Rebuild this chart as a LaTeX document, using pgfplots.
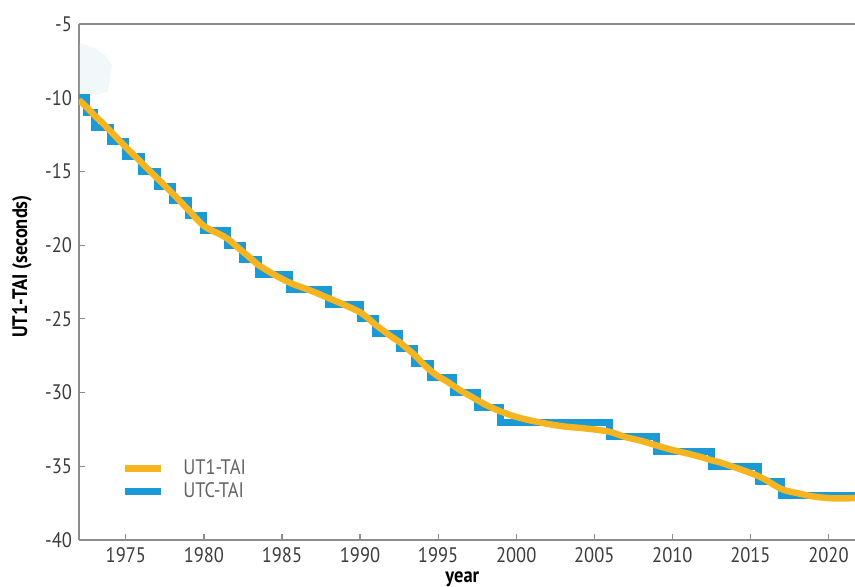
\documentclass[border=0pt]{standalone}
\usepackage{fontspec}
\setmainfont{PT Sans}[FakeStretch=0.88]
\usepackage{pgfplots}
\pgfplotsset{compat=1.18}
\definecolor{ut1}{HTML}{F6B420}
\definecolor{utc}{HTML}{1A9AD6}
\definecolor{axgray}{HTML}{8C8C8C}
\definecolor{txtgray}{HTML}{3C3C3C}
\definecolor{blob}{HTML}{F1F8FA}

\pgfplotstableread{
year val
1972.0 -10
1972.5 -11
1973.0 -12
1974.0 -13
1975.0 -14
1976.0 -15
1977.0 -16
1978.0 -17
1979.0 -18
1980.0 -19
1981.5 -20
1982.5 -21
1983.5 -22
1985.5 -23
1988.0 -24
1990.0 -25
1991.0 -26
1992.5 -27
1993.5 -28
1994.5 -29
1996.0 -30
1997.5 -31
1999.0 -32
2006.0 -33
2009.0 -34
2012.5 -35
2015.5 -36
2017.0 -37
2022.5 -37
}\utctai

\pgfplotstableread{
year val
1972.0 -10.15
1972.5 -10.65
1973.0 -11.2
1973.5 -11.7
1974.0 -12.25
1975.0 -13.35
1976.0 -14.4
1977.0 -15.45
1978.0 -16.5
1979.0 -17.6
1980.0 -18.7
1981.0 -19.25
1981.5 -19.55
1982.0 -20.0
1982.5 -20.45
1983.0 -20.9
1983.5 -21.35
1984.5 -22.0
1985.5 -22.55
1986.5 -22.95
1987.0 -23.15
1988.0 -23.6
1989.0 -24.05
1990.0 -24.55
1990.5 -24.95
1991.0 -25.4
1991.5 -25.8
1992.0 -26.2
1992.5 -26.55
1993.0 -27.0
1993.5 -27.45
1994.0 -28.0
1994.5 -28.5
1995.0 -28.9
1995.5 -29.2
1996.0 -29.55
1996.5 -29.9
1997.0 -30.2
1997.5 -30.5
1998.0 -30.8
1998.5 -31.05
1999.0 -31.28
2000.0 -31.65
2001.0 -31.91
2002.0 -32.12
2003.0 -32.29
2004.0 -32.39
2005.0 -32.5
2006.0 -32.66
2007.0 -33.02
2008.0 -33.27
2009.0 -33.59
2010.0 -33.89
2011.0 -34.14
2012.0 -34.42
2012.5 -34.59
2013.0 -34.72
2014.0 -35.07
2015.0 -35.45
2015.5 -35.66
2016.0 -35.93
2017.0 -36.55
2018.0 -36.82
2019.0 -37.04
2020.0 -37.16
2021.0 -37.18
2022.0 -37.15
}\utitai

\begin{document}
\begin{tikzpicture}
\begin{axis}[
  name=ax,
  at={(0,0)}, anchor=south west,
  scale only axis, width=388pt, height=258pt,
  xmin=1972, xmax=2021.7, ymin=-40, ymax=-5,
  axis lines*=left,
  xtick={1975,1980,...,2020}, ytick={-40,-35,...,-5},
  tick align=inside, major tick length=3pt,
  tick style={axgray, line width=0.6pt},
  axis line style={axgray, line width=0.8pt},
  tick label style={font=\fontsize{10.5}{12}\selectfont, text=txtgray},
  /pgf/number format/assume math mode=true,
  /pgf/number format/1000 sep={},
  xlabel={year}, ylabel={UT1-TAI (seconds)},
  label style={font=\fontsize{10.5}{12}\selectfont\bfseries, text=black},
  ylabel style={at={(axis description cs:-0.0735,0.53)}, anchor=center},
  xlabel style={at={(axis description cs:0.494,-0.0756)}, anchor=center},
  reverse legend,
  legend style={at={(0.047,0.169)}, anchor=north west, draw=none, fill=none,
    font=\fontsize{10.5}{12}\selectfont, text=txtgray!80,
    row sep=0pt, nodes={inner sep=1.2pt},
    /tikz/every odd column/.append style={column sep=8pt}},
  legend cell align=left,
  legend image code/.code={\draw[#1] (0pt,0pt) -- (18pt,0pt);},
]
\addplot[fill=blob, draw=none, forget plot] coordinates {
 (1972.06,-6.29) (1973.02,-6.63) (1973.66,-7.10) (1974.11,-7.78)
 (1973.98,-8.80) (1973.85,-9.61) (1972.06,-10.02)} -- cycle;
\addplot[const plot, utc, line width=3.5pt, line join=miter] table[x=year,y=val] {\utctai};
\addlegendentry{UTC-TAI}
\addplot[smooth, ut1, line width=3.2pt, line join=round] table[x=year,y=val] {\utitai};
\addlegendentry{UT1-TAI}
\end{axis}
\draw[axgray, line width=0.8pt] (ax.north west) -- (ax.north east);
\pgfresetboundingbox
\path (-39.5pt,-23pt) rectangle (388pt,270pt);
\end{tikzpicture}
\end{document}
